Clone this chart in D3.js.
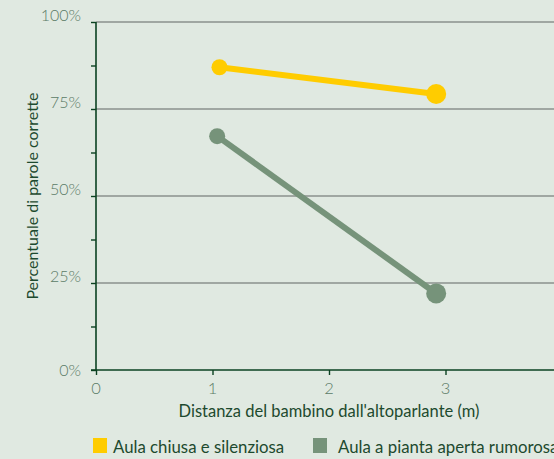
<!DOCTYPE html>
<html><head><meta charset="utf-8">
<script src="https://cdn.jsdelivr.net/npm/d3@7"></script>
<style>
html,body{margin:0;padding:0;background:#e0e9e1;}
svg{display:block;font-family:Lato,"Open Sans",sans-serif;}
</style></head>
<body><svg id="c" width="554" height="459"></svg>
<script>
const seriesNames = ["Aula chiusa e silenziosa", "Aula a pianta aperta rumorosa"];
const seriesColors = ["#ffcc00", "#76937a"];
const distances = [[1.06, 2.92], [1.04, 2.92]];
const quietValues = [87.0, 79.3];
const noisyValues = [67.2, 22.0];
const yTicks = [0, 25, 50, 75, 100];
const yMinorTicks = [12.5, 37.5, 62.5, 87.5];
const xTicks = [0, 1, 2, 3, 4];
const xTitle = "Distanza del bambino dall'altoparlante (m)";
const yTitle = "Percentuale di parole corrette";

const svg = d3.select("#c");
const x = d3.scaleLinear().domain([0, 4]).range([96, 562]);
const y = d3.scaleLinear().domain([0, 100]).range([370, 22]);

const axisColor = "#0b4221";
const labelColor = "#5b7b67";

// gridlines
svg.append("g").selectAll("line").data(yTicks.filter(d => d > 0)).join("line")
  .attr("x1", x(0)).attr("x2", 554).attr("y1", d => y(d)).attr("y2", d => y(d))
  .attr("stroke", "#8b908c").attr("stroke-width", 1.6);

// y axis
const yAxis = svg.append("g").attr("transform", `translate(${x(0)},0)`)
  .call(d3.axisLeft(y).tickValues(yTicks.concat(yMinorTicks)).tickSize(5).tickFormat(""));
yAxis.select(".domain").attr("stroke", axisColor).attr("stroke-width", 1.6).attr("d", `M0,${y(100)}V${y(0)}`);
yAxis.selectAll(".tick line").attr("stroke", axisColor).attr("stroke-width", 1.4);
svg.append("g").selectAll("text").data(yTicks).join("text")
  .attr("x", 81).attr("y", d => y(d) - (d === 0 ? -6 : 1)).attr("text-anchor", "end")
  .attr("font-size", 16).attr("font-weight", 300).attr("fill", labelColor)
  .text(d => d + "%");

// x axis
const xAxis = svg.append("g").attr("transform", `translate(0,${y(0)})`)
  .call(d3.axisBottom(x).tickValues(xTicks).tickSize(5).tickFormat(""));
xAxis.select(".domain").attr("stroke", axisColor).attr("stroke-width", 1.6).attr("d", `M${x(0)-5},0H${x(4)}`);
xAxis.selectAll(".tick line").attr("stroke", axisColor).attr("stroke-width", 1.4);
svg.append("g").selectAll("text").data(xTicks).join("text")
  .attr("x", d => x(d)).attr("y", 394).attr("text-anchor", "middle")
  .attr("font-size", 16.5).attr("font-weight", 300).attr("fill", labelColor)
  .text(d => d);

// titles
svg.append("text").attr("x", x(2)).attr("y", 417).attr("text-anchor", "middle")
  .attr("font-size", 16.5).attr("fill", "#1d4a2e").text(xTitle);
svg.append("text").attr("transform", `translate(38,${y(50)}) rotate(-90)`).attr("text-anchor", "middle")
  .attr("font-size", 16).attr("fill", "#1d4a2e").text(yTitle);

// series
const allValues = [quietValues, noisyValues];
const line = d3.line().x(d => x(d[0])).y(d => y(d[1]));
allValues.forEach((vals, i) => {
  const pts = vals.map((v, j) => [distances[i][j], v]);
  const g = svg.append("g");
  g.append("path").attr("d", line(pts)).attr("fill", "none")
    .attr("stroke", seriesColors[i]).attr("stroke-width", 6);
  g.selectAll("circle").data(pts).join("circle")
    .attr("cx", d => x(d[0])).attr("cy", d => y(d[1]))
    .attr("r", (d, j) => j === 0 ? 8 : 10).attr("fill", seriesColors[i]);
});

// legend
const legX = [93, 313];
const legTextX = [113, 338];
const lg = svg.append("g");
seriesNames.forEach((n, i) => {
  lg.append("rect").attr("x", legX[i]).attr("y", 438).attr("width", 14).attr("height", 15)
    .attr("fill", seriesColors[i]);
  lg.append("text").attr("x", legTextX[i]).attr("y", 453).attr("font-size", 16.8)
    .attr("fill", "#1d4a2e").text(n);
});
</script></body></html>
